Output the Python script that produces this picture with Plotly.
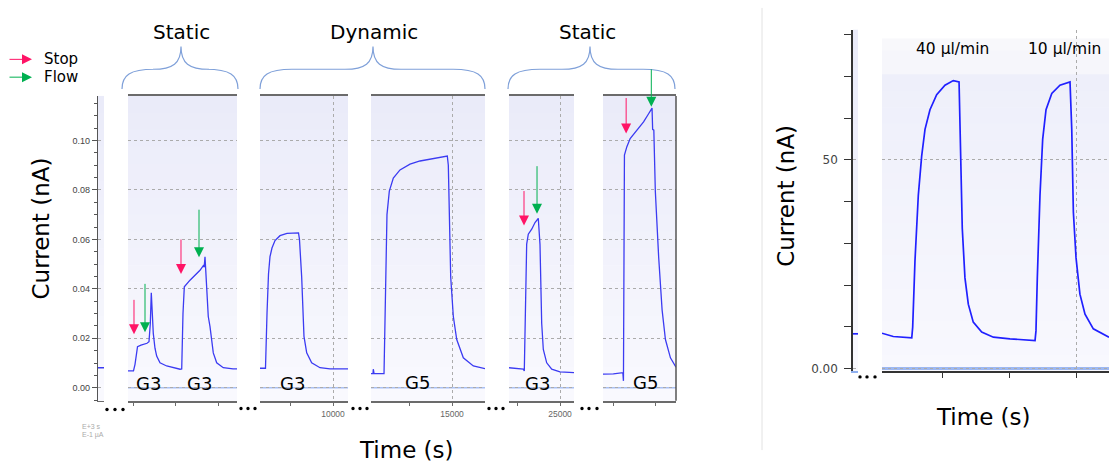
import plotly.graph_objects as go

W, H = 1109, 463
FONT = "DejaVu Sans"

# ---------------- data ----------------
# short stub of the record before the first window (left chart)
stub_l_t = [0, 100]
stub_l_i = [0.0081, 0.0081]

# window 1: two static G3 injections
p1_t = [882, 1011, 1047, 1082, 1106, 1188, 1282, 1329, 1376, 1407, 1430, 1458, 1477, 1517,
        1557, 1635, 1793, 2106, 2146, 2176, 2207, 2341, 2459, 2576, 2654, 2675, 2694, 2734,
        2771, 2811, 2889, 2969, 3124, 3353, 3447]
p1_i = [0.0068, 0.0068, 0.0095, 0.0155, 0.0166, 0.0172, 0.0177, 0.0180, 0.0186, 0.0260,
        0.0384, 0.0300, 0.0220, 0.0160, 0.0128, 0.0101, 0.0088, 0.0075, 0.0076, 0.0300,
        0.0408, 0.0435, 0.0455, 0.0475, 0.0494, 0.0488, 0.0530, 0.0420, 0.0288, 0.0248,
        0.0141, 0.0101, 0.0081, 0.0076, 0.0076]

# window 2: dynamic G3
p2_t = [8282, 8411, 8447, 8482, 8517, 8564, 8635, 8753, 8917, 9188, 9211, 9263, 9317, 9381,
        9498, 9694, 9929, 10353]
p2_i = [0.0079, 0.0079, 0.030, 0.046, 0.053, 0.0565, 0.0595, 0.0615, 0.0624, 0.0626, 0.060,
        0.0448, 0.0208, 0.0141, 0.0101, 0.0081, 0.0076, 0.0076]

# window 3: dynamic G5
p3_t = [13094, 13141, 13148, 13165, 13400, 13435, 13470, 13525, 13619, 13776, 14012, 14247,
        14482, 14718, 14889, 14913, 14969, 15031, 15111, 15266, 15501, 15776]
p3_i = [0.0057, 0.0058, 0.0075, 0.0058, 0.0057, 0.045, 0.070, 0.0795, 0.0848, 0.0881,
        0.0904, 0.0917, 0.0924, 0.0931, 0.0937, 0.090, 0.0448, 0.0288, 0.0195, 0.0121,
        0.0088, 0.0077]

# window 4: static G3
p4_t = [23800, 24136, 24160, 24216, 24254, 24334, 24412, 24489, 24506, 24529, 24569, 24607,
        24687, 24805, 25000, 25329]
p4_i = [0.0081, 0.0075, 0.0068, 0.0581, 0.0621, 0.0641, 0.0668, 0.0685, 0.0640, 0.0580,
        0.0261, 0.0155, 0.0101, 0.0075, 0.0064, 0.0061]

# window 5: static G5
p5_t = [27765, 28007, 28229, 28243, 28266, 28323, 28400, 28558, 28713, 28831, 28911, 28925,
        28953, 28988, 29066, 29146, 29224, 29341, 29471]
p5_i = [0.0055, 0.0056, 0.0061, 0.0028, 0.0941, 0.0975, 0.1008, 0.1041, 0.1075, 0.1108,
        0.1131, 0.1045, 0.1042, 0.0795, 0.0528, 0.0315, 0.0195, 0.0121, 0.0083]

win_ranges = [[882, 3447], [8282, 10353], [13094, 15776], [23800, 25329], [27765, 29471]]
win_t = [p1_t, p2_t, p3_t, p4_t, p5_t]
win_i = [p1_i, p2_i, p3_i, p4_i, p5_i]
win_labels = [["G3", "G3"], ["G3"], ["G5"], ["G3"], ["G5"]]

# stop / flow markers: (window index, time, current)
stop_marks = [(0, 1023, 0.0216), (0, 2129, 0.0460), (3, 24153, 0.0656), (4, 28306, 0.1028)]
flow_marks = [(0, 1282, 0.0224), (0, 2553, 0.0528), (3, 24459, 0.0704), (4, 28894, 0.1136)]

# right chart: flow-rate comparison
stub_r_t = [0, 100]
stub_r_i = [8.3, 8.3]
r_t = [1545, 1629, 1767, 1774, 1791, 1816, 1841, 1866, 1903, 1953, 2015, 2077, 2120, 2127,
       2135, 2144, 2164, 2189, 2226, 2289, 2376, 2500, 2687, 2694, 2704, 2724, 2744, 2769,
       2812, 2873, 2948, 2961, 2973, 2993, 3022, 3060, 3122, 3239]
r_i = [8.45, 7.66, 7.35, 9.9, 25.7, 41.5, 50.9, 57.3, 62.0, 65.6, 67.9, 69.0, 68.7, 57.3,
       45.4, 33.6, 21.7, 15.4, 11.1, 8.7, 7.5, 7.1, 6.7, 9.0, 21.7, 41.5, 54.9, 62.0, 65.9,
       67.9, 68.7, 57.3, 37.5, 26.5, 17.8, 13.0, 9.5, 7.5]
rate_labels = ["40 µl/min", "10 µl/min"]


# ---------------- helpers (pixel -> paper) ----------------
def px(x):
    return x / W


def py(y):
    return 1 - y / H


STOP_C = "#FF1466"
FLOW_C = "#00B050"
TRACE_C = "#3b3bf2"
GRID_C = "#ababab"
AX_C = "#6b6b6b"

fig = go.Figure()

# left chart geometry (pixels)
win_px = [(128, 237), (260, 348), (371, 485), (509, 574), (603, 676)]
left_y_dom = [py(405), py(97)]
right_y_dom = [py(375), py(30)]

layout = dict(
    width=W, height=H, margin=dict(l=0, r=0, t=0, b=0),
    paper_bgcolor="white", plot_bgcolor="rgba(0,0,0,0)",
    showlegend=False, font=dict(family=FONT, color="black"),
)

# left stub axis + shared current axis
layout["xaxis"] = dict(domain=[px(98), px(104)], range=[0, 100], anchor="y",
                       showticklabels=False, ticks="", showgrid=False, zeroline=False,
                       showline=True, linecolor=AX_C, linewidth=1.2)
layout["yaxis"] = dict(domain=left_y_dom, range=[-0.0052, 0.118], anchor="x",
                       showline=True, linecolor="#555", linewidth=1.2,
                       ticks="outside", ticklen=5, tickcolor="#555", tickwidth=1,
                       tick0=0, dtick=0.02, tickformat=".2f",
                       tickfont=dict(family="Liberation Sans", size=9, color="#444"),
                       minor=dict(dtick=0.005, tick0=0, ticks="outside", ticklen=3,
                                  tickcolor="#555", showgrid=False),
                       showgrid=True, gridcolor=GRID_C, griddash="dot", gridwidth=1,
                       zeroline=False)

fig.add_trace(go.Scatter(x=stub_l_t, y=stub_l_i, mode="lines", xaxis="x", yaxis="y",
                         line=dict(color=TRACE_C, width=1.3), hoverinfo="skip"))

for k, ((a, b), rng) in enumerate(zip(win_px, win_ranges)):
    name = f"xaxis{k + 2}"
    layout[name] = dict(domain=[px(a), px(b)], range=rng, anchor="y",
                        showline=True, mirror=True, linecolor=AX_C, linewidth=1.5,
                        ticks="outside", ticklen=4, tickcolor=AX_C, tick0=0, dtick=5000,
                        tickformat="d",
                        tickfont=dict(family="Liberation Sans", size=8.5, color="#666"),
                        minor=dict(dtick=1000, tick0=0, ticks="outside", ticklen=4,
                                   tickcolor=AX_C, showgrid=False),
                        showgrid=True, gridcolor=GRID_C, griddash="dot", gridwidth=1,
                        zeroline=False)
    fig.add_trace(go.Scatter(x=win_t[k], y=win_i[k], mode="lines", xaxis=f"x{k + 2}",
                             yaxis="y", line=dict(color=TRACE_C, width=1.3),
                             hoverinfo="skip"))

# right stub axis + current axis
layout["xaxis7"] = dict(domain=[px(853), px(858)], range=[0, 100], anchor="y2",
                        showticklabels=False, ticks="", showgrid=False, zeroline=False,
                        showline=True, linecolor="#8fb0f0", linewidth=1.5)
layout["yaxis2"] = dict(domain=right_y_dom, range=[-0.6, 81.2], anchor="x7",
                        showline=True, linecolor="#333", linewidth=1.5,
                        tickvals=[0, 50], ticktext=["0.00", "50"],
                        ticks="outside", ticklen=7, tickcolor="#333",
                        ticklabelstandoff=4,
                        tickfont=dict(family=FONT, size=12, color="#444"),
                        minor=dict(dtick=10, tick0=0, ticks="outside", ticklen=7,
                                   tickcolor="#333", showgrid=False),
                        showgrid=True, gridcolor=GRID_C, griddash="dot", gridwidth=1,
                        zeroline=False)
layout["xaxis8"] = dict(domain=[px(882), 1.0], range=[1545, 3239], anchor="y2",
                        showline=True, linecolor="#333", linewidth=2,
                        tickvals=[3000], showticklabels=False,
                        ticks="outside", ticklen=5, tickcolor="#333",
                        minor=dict(dtick=500, tick0=0, ticks="outside", ticklen=5,
                                   tickcolor="#333", showgrid=False),
                        showgrid=True, gridcolor=GRID_C, griddash="dot", gridwidth=1,
                        zeroline=False)

fig.add_trace(go.Scatter(x=stub_r_t, y=stub_r_i, mode="lines", xaxis="x7", yaxis="y2",
                         line=dict(color="#2020ff", width=1.7), hoverinfo="skip"))
fig.add_trace(go.Scatter(x=r_t, y=r_i, mode="lines", xaxis="x8", yaxis="y2",
                         line=dict(color="#2020ff", width=1.7), hoverinfo="skip"))

shapes = []


def mix(c0, c1, f):
    return "rgb(%d,%d,%d)" % tuple(round(c0[j] + (c1[j] - c0[j]) * f) for j in range(3))


def gradient(x0, x1, y0, y1, top, bottom, n=18):
    """Vertical lavender gradient between pixel rows y0 (top) and y1 (bottom)."""
    for k in range(n):
        ya = y0 + (y1 - y0) * k / n
        yb = y0 + (y1 - y0) * (k + 1) / n + 0.6
        shapes.append(dict(type="rect", xref="paper", yref="paper",
                           x0=px(x0), x1=px(x1), y0=py(yb), y1=py(ya),
                           fillcolor=mix(top, bottom, (k + 0.5) / n),
                           line=dict(width=0), layer="below"))


TOP = (234, 235, 249)
BOT = (249, 249, 254)
gradient(98, 104, 97, 405, TOP, BOT)
for a, b in win_px:
    gradient(a, b, 97, 405, TOP, BOT)
gradient(853, 858, 30, 375, TOP, BOT)
gradient(882, 1109, 39, 75, (248, 248, 251), (245, 245, 251), n=3)
gradient(882, 1109, 75, 375, (238, 239, 250), (248, 248, 254))

# zero reference lines
for k in range(5):
    shapes.append(dict(type="line", xref=f"x{k + 2} domain", yref="y", x0=0, x1=1,
                       y0=0, y1=0, line=dict(color="#a9c0f3", width=1.5), layer="below"))
shapes.append(dict(type="line", xref="x8 domain", yref="y2", x0=0, x1=1, y0=0, y1=0,
                   line=dict(color="#9db8f2", width=3), layer="below"))

# right border of last window
shapes.append(dict(type="line", xref="paper", yref="paper", x0=px(676), x1=px(676),
                   y0=py(405), y1=py(97), line=dict(color="#555", width=1.5)))

# separator between the two charts
shapes.append(dict(type="line", xref="paper", yref="paper", x0=px(762), x1=px(762),
                   y0=py(455), y1=py(8), line=dict(color="#e2e2e2", width=1)))

# axis breaks "..."
for xs, yc in [((107, 115, 123), 414), ((241, 248, 255), 413), ((353, 360, 367), 413),
               ((489, 496, 503), 413), ((582, 589, 597), 413), ((860, 867, 875), 381)]:
    for xc in xs:
        r = 1.7
        shapes.append(dict(type="circle", xref="paper", yref="paper",
                           x0=px(xc - r), x1=px(xc + r), y0=py(yc + r), y1=py(yc - r),
                           fillcolor="black", line=dict(width=0)))


# curly braces over the window groups
def brace(x0, x1, xc, yb=90, ym=70, yt=47):
    pts = lambda x, y: f"{px(x)},{py(y)}"
    path = (f"M{pts(x0, yb)} C{pts(x0, ym + 6)} {pts(x0 + 8, ym)} {pts(x0 + 32, ym)} "
            f"L{pts(xc - 28, ym)} C{pts(xc - 8, ym)} {pts(xc, ym - 6)} {pts(xc, yt)} "
            f"C{pts(xc, ym - 6)} {pts(xc + 8, ym)} {pts(xc + 28, ym)} "
            f"L{pts(x1 - 32, ym)} C{pts(x1 - 8, ym)} {pts(x1, ym + 6)} {pts(x1, yb)}")
    shapes.append(dict(type="path", xref="paper", yref="paper", path=path,
                       line=dict(color="#7fa0d9", width=1.2)))


brace(122, 238, 181)
brace(260, 485, 373)
brace(508, 675, 590)

annotations = []


def text(s, x, y, size, xanchor="center", color="black", angle=0, family=FONT):
    annotations.append(dict(text=s, x=px(x), y=py(y), xref="paper", yref="paper",
                            showarrow=False, xanchor=xanchor, yanchor="middle",
                            textangle=angle, font=dict(family=family, size=size,
                                                       color=color)))


text("Static", 181, 32, 20)
text("Dynamic", 374, 32, 20)
text("Static", 587, 32, 20)
text("Stop", 42, 60, 15, xanchor="left")
text("Flow", 42, 78, 15, xanchor="left")
text("Current (nA)", 41, 231, 23, angle=-90)
text("Time (s)", 406, 455, 23)
text("Current (nA)", 786, 198, 23, angle=-90)
text("Time (s)", 983, 422, 23)
text(rate_labels[0], 952, 50, 15.5)
text(rate_labels[1], 1064, 50, 15.5)
text("E+3 s", 80, 431, 7, xanchor="left", color="#aaa", family="Liberation Sans")
text("E-1 µA", 80, 440, 7, xanchor="left", color="#aaa", family="Liberation Sans")

label_pos = [[(148, 388), (199, 388)], [(292, 388)], [(417, 387)], [(537, 388)],
             [(645, 387)]]
for labs, poss in zip(win_labels, label_pos):
    for s, (x, y) in zip(labs, poss):
        text(s, x, y, 18)

# legend arrows
for y, c in [(60, STOP_C), (78, FLOW_C)]:
    annotations.append(dict(text="", x=px(32), y=py(y), xref="paper", yref="paper",
                            ax=-24, ay=0, showarrow=True, arrowhead=2, arrowsize=2,
                            arrowwidth=1, arrowcolor=c))

# stop / flow arrows on the traces
stop_len = [36, 36, 36, 37]
flow_len = [50, 49, 49, 39]
for marks, lens, c in [(stop_marks, stop_len, STOP_C), (flow_marks, flow_len, FLOW_C)]:
    for (w, t, v), L in zip(marks, lens):
        annotations.append(dict(text="", x=t, y=v, xref=f"x{w + 2}", yref="y",
                                ax=0, ay=-L, showarrow=True, arrowhead=2, arrowsize=2,
                                arrowwidth=1, arrowcolor=c))

layout["shapes"] = shapes
layout["annotations"] = annotations
fig.update_layout(**layout)

fig.write_html("out.html")
